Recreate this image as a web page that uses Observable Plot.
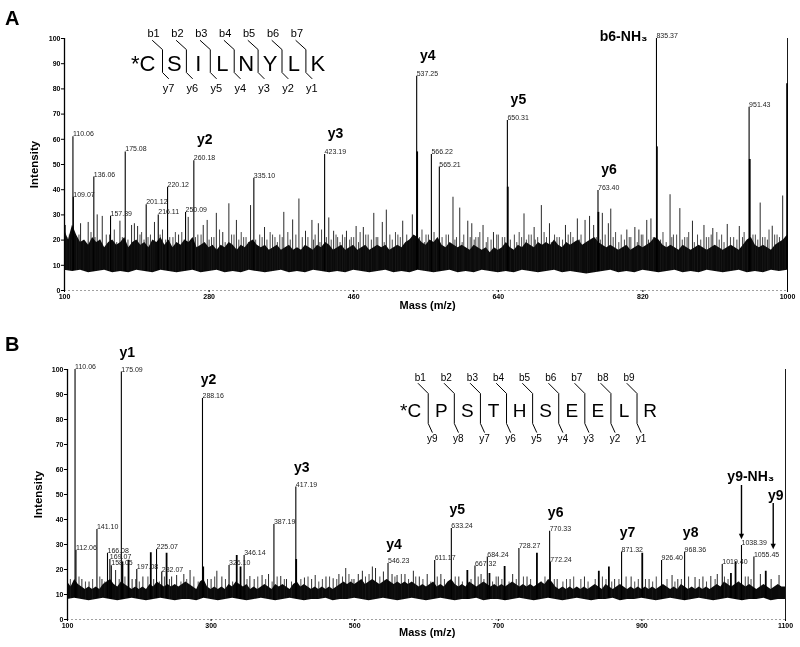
<!DOCTYPE html>
<html><head><meta charset="utf-8">
<script src="https://cdn.jsdelivr.net/npm/d3@7"></script>
<script src="https://cdn.jsdelivr.net/npm/@observablehq/plot@0.6"></script>
<style>
html,body{margin:0;padding:0;background:#fff;}
#wrap{position:relative;width:800px;height:647px;overflow:hidden;background:#fff;font-family:'Liberation Sans',Arial,sans-serif;filter:grayscale(100%);}
.pl{position:absolute;left:0;}
.tag{position:absolute;left:5px;font-weight:bold;font-size:20px;line-height:20px;color:#000;}
</style></head>
<body><div id="wrap"></div>
<script>
// ---------------- Panel A data ----------------
const xTicksA = [100, 280, 460, 640, 820, 1000];
const yTicks = [0, 10, 20, 30, 40, 50, 60, 70, 80, 90, 100];
// upper edge of the dense noise band, every 5 m/z from 100
const bandHiA = [
  24,20,26,22,19,20,18,21,19,20,17,19,20,18,19,21,17,19,20,18,
  19,17,20,19,21,18,20,17,19,18,20,19,21,17,18,19,17,18,16,18,
  17,19,18,16,18,17,19,20,18,17,18,16,17,18,16,17,18,16,17,16,
  18,17,16,18,17,19,18,16,17,18,16,17,18,16,17,18,16,17,18,17,
  18,16,17,18,17,19,20,22,21,19,18,20,19,21,18,17,19,18,17,18,
  17,16,18,17,16,17,15,17,16,17,19,17,16,18,17,19,18,17,19,18,
  19,18,20,18,17,19,18,19,20,18,19,20,21,19,18,17,18,17,16,17,
  18,16,17,18,17,18,19,21,20,18,17,18,17,16,18,17,16,17,18,17,
  16,17,18,17,16,17,18,17,16,18,20,21,18,17,18,17,16,18,19,20,
  22];
// lower edge of the noise band, every 10 m/z from 100
const bandLoA = [
  8,7.5,8,7,7.5,8,7,7.5,7,8,
  7.5,7,8,7.5,7,7.5,8,7,7.5,8,
  7,7.5,7,8,7.5,7,7.5,8,7,7.5,
  7,8,7.5,7,7.5,7,8,7.5,7,7.5,
  8,7,7.5,7,8,7.5,7,7.5,8,7,
  7.5,7,8,7.5,7,7.5,7,8,7.5,7,
  7.5,8,7,7.5,7,6.5,7,7.5,8,7,
  7.5,7,8,7.5,7,7.5,8,7,7.5,7,
  8,7.5,7,7.5,8,7,7.5,7,8,7.5,
  8];
const peakMzA = [110.5,111,136.5,157.3,175.6,201.7,216.7,228.3,250.7,261,335.7,423.8,538.4,556.7,566.6,651.3,764.1,836.9,952.2];
const peakIntA = [61,37,45,29.5,55,34,30,41,31,51.5,44.5,54,85,54,49,67.5,39.7,100,72.7];
const peakLabelA = ["110.06","109.07","136.06","157.39","175.08","201.12","216.11","220.12","250.09","260.18","335.10","423.19","537.25","566.22","565.21","650.31","763.40","835.37","951.43"];
const extraMzA = [539, 651.8, 764.6, 837.4, 953, 999.5];
const extraIntA = [55, 41, 31, 57, 52, 82];
const spikeMzA = [101,120,129.5,140.7,147,169,183.5,187,191,212,242,254,272.7,277.6,289,297,304.6,314,331.6,349,373,384,391.8,400,408,416,429,435,451,463,472,485,495.6,500.6,521,533,583.6,592,602,607,621,634,672,684.6,693.6,703.7,723.6,738.4,748,753.6,758.7,769.5,777,780,800,810,815,824.8,830,853.8,866,881.7,896,907,925,940,966,981,994];
const spikeIntA = [25.8,26.5,27,30,29.4,27.5,25.8,26.5,25.4,27,22,29,25.8,27.8,30.6,23,34.4,27.8,33.7,25,31,28,36.3,23.5,27.8,26.5,28.8,23.5,23.5,25.4,25,30.6,27,31.9,27.5,30,37,32.7,27.5,26.5,25.8,23,30.4,25,33.7,26.5,25.8,28.4,27.8,29.4,25.8,30.6,26.5,32.3,24,25,24,27.8,28.4,38,32.5,27.5,25.8,24.6,26.2,25.4,34.7,25.5,37.5];
const fuzzMzA = [106,115,133,152,162,196,207,222,235,246,266,283,293,308,320,326,343,356,362,368,378,396,412,420,440,446,457,468,478,490,505,512,526,545,550,560,575,588,597,612,617,627,640,645,660,666,678,689,697,710,716,730,743,786,793,805,820,845,858,872,877,888,902,912,918,933,946,960,972,977,987];
const fuzzIntA = [22,21,23,22,24,23,22,24,21,23,22,21,24,22,23,21,22,23,21,22,23,21,22,24,21,22,21,23,22,21,22,23,22,24,22,23,22,21,22,21,23,21,22,21,22,23,22,21,23,22,21,23,22,23,22,21,22,23,22,21,23,22,21,23,22,21,23,22,21,24,22];
const fuzz2MzA = [103,109,118,124,138,144,156,165,172,179,194,199,204,210,219,226,231,238,249,258,263,270,280,286,300,311,317,323,329,338,346,352,359,365,371,381,388,403,410,418,426,432,438,443,449,455,460,466,475,482,488,498,508,515,518,530,542,548,553,563,570,578,586,595,605,610,615,625,631,638,648,655,663,669,675,681,686,700,706,713,720,727,733,741,751,762,767,773,783,790,797,803,813,818,827,833,842,849,856,862,869,875,884,892,899,905,915,921,929,937,944,950,957,963,969,975,984,990,997];
const fuzz2IntA = [21,20,22,19,21,20,22,19,21,20,22,20,21,19,22,20,21,23,20,19,21,22,20,21,19,22,20,21,19,20,21,20,22,19,21,20,22,21,20,19,21,20,22,19,21,20,21,19,22,20,21,19,20,22,21,20,21,19,22,20,21,22,20,19,21,20,21,19,20,22,21,20,19,21,20,22,20,21,19,21,20,22,21,20,19,21,20,22,21,19,20,21,19,22,20,21,20,19,21,22,20,21,19,20,21,22,20,19,21,20,21,19,22,20,21,20,22,21,20];
const ionNameA = ["y2","y3","y4","y5","y6"];
const ionPeakA = ["260.18","423.19","537.25","650.31","763.40"];
const sideIonNameA = ["b6-NH\u2083"];
const sideIonPeakA = ["835.37"];
const seqA = ["*C","S","I","L","N","Y","L","K"];
const bIonsA = ["b1","b2","b3","b4","b5","b6","b7"];
const yIonsA = ["y7","y6","y5","y4","y3","y2","y1"];

// ---------------- Panel B data ----------------
const xTicksB = [100, 300, 500, 700, 900, 1100];
const bandHiB = [
  15,13,16,14,13,12,13,12,13,12,14,15,16,14,13,15,14,13,12,13,
  12,13,12,14,13,15,14,13,14,13,14,13,14,15,14,13,12,15,16,13,
  12,13,12,13,12,14,13,15,14,13,14,12,13,12,13,14,13,12,14,13,
  14,13,12,14,15,13,14,13,12,13,12,13,12,13,12,13,14,15,14,15,
  14,15,16,14,15,16,15,14,15,16,15,14,15,14,15,14,15,14,13,14,
  13,14,15,13,14,13,15,16,14,13,14,13,15,14,13,14,15,14,13,14,
  13,14,13,14,15,14,13,14,13,14,13,14,15,14,16,15,13,12,13,12,
  13,12,13,12,13,12,13,14,13,12,14,13,12,13,14,13,12,13,12,13,
  12,13,12,13,12,13,14,13,12,13,12,14,13,12,13,12,13,12,13,12,
  13,14,13,15,14,13,14,15,14,13,14,13,12,13,14,13,12,13,14,13,
  13];
const bandLoB = [
  8,8.5,8,7.5,8,8.5,8,7.5,8,8.5,
  8,7.5,8,8.5,8,7.5,8,8,7.5,8.5,
  8,7.5,8,8.5,8,7.5,8,8.5,8,7.5,
  8,8.5,8,7.5,8,8,8.5,7.5,8,8,
  8.5,8,7.5,8,8.5,8,7.5,8,8.5,8,
  7.5,8,8.5,8,7.5,8,8,8.5,7.5,8,
  8,7.5,8,8.5,8,7.5,8,8.5,8,7.5,
  8,8.5,8,7.5,8,8,8.5,7.5,8,8,
  8.5,8,7.5,8,8.5,8,7.5,8,8.5,8,
  7.5,8,8.5,8,7.5,8,8,8.5,7.5,8,
  8];
const peakMzB = [110.5,111.8,141,155.7,159,161,175,196.5,224,231.3,288,325,346,387.5,418,546.4,611.4,634.6,667.5,684.7,728.7,771.5,772.5,871.7,927.4,959.5,1011.9,1038.7,1056];
const peakIntB = [100,27.6,36,26.5,24,21.5,99,20,28,19,88.4,21.6,25.6,38,53,22.4,23.6,36.4,21.4,25,28.4,35.3,23,27,23.6,27,22,29.6,25];
const peakLabelB = ["110.06","112.06","141.10","166.08","169.07","158.05","175.09","197.08","225.07","232.07","288.16","326.10","346.14","387.19","417.19","546.23","611.17","633.24","667.32","684.24","728.27","770.33","772.24","871.32","926.40","968.36","1019.40","1038.39","1055.45"];
const extraMzB = [176.5,185,216,238,289,335.7,341,418.5,656.9,687.7,708.8,753.8,840,854,900.5,1024,1030.4,1072.5];
const extraIntB = [23,23.7,26.7,26.5,21,25.6,21,24,19.6,18.4,21.2,26.5,19.3,21,26.5,18.4,23,19.3];
const spikeMzB = [120,130,148,167,190,205,245,252,262,270.7,300,308,315,354,360,371,380,397,405,430,440,445,460,470,478,487.5,499,505,510.7,524.6,529,540,552,559,570,581.7,590,601,620,645,676,700,720,740,782,800,820,862,885,910,942,950,974,985,996,1005,1048,1065,1080,1091];
const spikeIntB = [16,15,16,19.6,16,17,17,17.6,18,19.6,16,19.3,17,17.2,16,17.6,18,17.2,16,16.6,16,17.6,17,16.3,18,20.4,16,18,19.3,21,20.4,19,18,17.6,18,19.3,17,18,18,17,18,17,18,17,16,16,17,16,17,16,17.6,16,16.8,17,17.2,18,17,18,16,17.6];
const fuzzMzB = [104,116,125,135,145,152,172,180,195,200,212,220,228,235,242,258,266,276,282,295,305,320,330,350,365,376,385,392,402,412,425,435,450,455,465,475,483,492,496,515,520,535,545,556,565,575,585,595,606,615,625,640,650,662,672,680,692,697,705,715,725,735,745,760,765,778,790,795,805,815,825,835,845,850,858,868,878,890,895,905,915,920,935,946,955,965,980,990,1002,1015,1020,1035,1044,1052,1060,1068,1077,1085,1095];
const fuzzIntB = [16,17,15,16,17,15,16,17,16,15,17,16,15,17,16,15,16,17,15,16,17,16,15,16,17,16,15,17,16,15,16,17,15,16,17,16,17,18,16,17,18,17,16,17,18,16,17,16,15,17,16,17,15,16,17,16,15,17,16,15,16,17,16,15,17,16,15,16,17,16,15,16,17,16,15,16,17,15,16,16,15,17,16,15,16,17,16,15,16,17,16,15,17,16];
const ionNameB = ["y1","y2","y3","y4","y5","y6","y7","y8"];
const ionPeakB = ["175.09","288.16","417.19","546.23","633.24","770.33","871.32","968.36"];
const arrowNameB = ["y9-NH\u2083","y9"];
const arrowMzB = [1038.7, 1082.9];
const arrowTopB = [53.6, 46.4];
const arrowEndB = [33.6, 29.6];
const arrowLabelMzB = [1051.7, 1086.5];
const arrowLabelIntB = [57.2, 49.6];
const seqB = ["*C","P","S","T","H","S","E","E","L","R"];
const bIonsB = ["b1","b2","b3","b4","b5","b6","b7","b8","b9"];
const yIonsB = ["y9","y8","y7","y6","y5","y4","y3","y2","y1"];

const FONT = "'Liberation Sans', Arial, sans-serif";

function spectrum(c) {
  const [m0, m1] = c.domain;
  const kx = (800 - c.ml - c.mr) / (m1 - m0);
  const hi = c.bandHi.map((v, i) => ({mz: m0 + i * 5, v}));
  const lo = c.bandLo.map((v, i) => ({mz: m0 + i * 10, v}));
  const peaks = c.peakMz.map((mz, i) => ({mz, v: c.peakInt[i], label: c.peakLabel[i]}));
  const extras = c.extraMz.map((mz, i) => ({mz, v: c.extraInt[i]}));
  const spikes = c.spikeMz.map((mz, i) => ({mz, v: c.spikeInt[i]}));
  const fuzz = c.fuzzMz.map((mz, i) => ({mz, v: c.fuzzInt[i]}));
  const find = lab => peaks.find(p => p.label === lab);
  const ions = c.ionName.map((n, k) => ({n, ...find(c.ionPeak[k])}));
  const sideIons = (c.sideName || []).map((n, k) => ({n, ...find(c.sidePeak[k])}));
  // sequence diagram
  const s = c.seqLayout;
  const bxs = c.bIons.map((_, k) => s.start + k * s.step);
  const br = [];
  bxs.forEach((bx, k) => s.shape.forEach(([dpx, v]) => br.push({k, mz: bx + dpx / kx, v})));
  const bLab = c.bIons.map((t, k) => ({t, mz: bxs[k] + s.bDx / kx, v: s.bY}));
  const yLab = c.yIons.map((t, k) => ({t, mz: bxs[k] + s.yDx / kx, v: s.yY}));
  const letters = c.seq.slice(1).map((t, k) => ({t, mz: bxs[k] + s.step / 2, v: s.letterY}));
  const first = [{t: c.seq[0], mz: bxs[0] - 7 / kx, v: s.letterY}];
  const arrows = (c.arrowName || []).map((n, k) => ({n, mz: c.arrowMz[k], top: c.arrowTop[k], end: c.arrowEnd[k], lmz: c.arrowLabelMz[k], lv: c.arrowLabelInt[k]}));

  return Plot.plot({
    width: 800, height: c.height,
    marginTop: c.mt, marginBottom: c.mb, marginLeft: c.ml, marginRight: c.mr,
    x: {domain: c.domain},
    y: {domain: [0, 100]},
    style: {fontFamily: FONT, background: "transparent", color: "#000"},
    marks: [
      Plot.areaY(hi, {x: "mz", y: "v", fill: "#0a0a0a"}),
      Plot.ruleX(fuzz, {x: "mz", y1: 0, y2: "v", stroke: "#1a1a1a", strokeWidth: 0.8}),
      Plot.ruleX(spikes, {x: "mz", y1: 0, y2: "v", stroke: "#111", strokeWidth: 0.9}),
      Plot.ruleX(peaks, {x: "mz", y1: 0, y2: "v", stroke: "#000", strokeWidth: 1.1}),
      Plot.ruleX(extras, {x: "mz", y1: 0, y2: "v", stroke: "#000", strokeWidth: 1.8}),
      Plot.areaY(lo, {x: "mz", y: "v", fill: "#fff"}),
      Plot.ruleY([0], {stroke: "#888", strokeWidth: 0.8, strokeDasharray: "2,2"}),
      Plot.ruleX([m0], {y1: 0, y2: 100, stroke: "#000", strokeWidth: 1.3}),
      Plot.ruleX([m1], {y1: 0, y2: 100, stroke: "#000", strokeWidth: 0.9}),
      Plot.axisY({ticks: yTicks, tickSize: 3, tickPadding: 1, fontSize: 7, fontWeight: "bold", label: null, tickFormat: d => String(d)}),
      Plot.axisX({ticks: c.xTicks, tickSize: 2, tickPadding: 2, fontSize: 7, fontWeight: "bold", label: null, tickFormat: d => String(d)}),
      Plot.text(["Intensity"], {x: c.yLabel[0], y: c.yLabel[1], text: d => d, rotate: -90, fontSize: 11.5, fontWeight: "bold"}),
      Plot.text(["Mass (m/z)"], {x: c.xLabel[0], y: c.xLabel[1], text: d => d, fontSize: 11, fontWeight: "bold"}),
      Plot.text(peaks, {x: "mz", y: "v", text: "label", textAnchor: "start", lineAnchor: "bottom", dx: 0, dy: -0.5, fontSize: 7, fill: "#222"}),
      Plot.text(ions, {x: "mz", y: "v", text: "n", dx: c.ionDx, dy: c.ionDy, fontSize: 14, fontWeight: "bold"}),
      Plot.text(sideIons, {x: "mz", y: "v", text: "n", textAnchor: "end", dx: -9, dy: -2, fontSize: 14, fontWeight: "bold"}),
      Plot.line(br, {x: "mz", y: "v", z: "k", stroke: "#000", strokeWidth: 1, curve: "linear"}),
      Plot.text(bLab, {x: "mz", y: "v", text: "t", fontSize: s.small}),
      Plot.text(yLab, {x: "mz", y: "v", text: "t", fontSize: s.small}),
      Plot.text(letters, {x: "mz", y: "v", text: "t", fontSize: s.big}),
      Plot.text(first, {x: "mz", y: "v", text: "t", textAnchor: "end", fontSize: s.big}),
      Plot.ruleX(arrows, {x: "mz", y1: "top", y2: "end", stroke: "#000", strokeWidth: 1.4}),
      Plot.text(arrows, {x: "mz", y: "end", text: () => "\u25BC", fontSize: 9, lineAnchor: "bottom", dy: 3}),
      Plot.text(arrows, {x: "lmz", y: "lv", text: "n", fontSize: 14, fontWeight: "bold"})
    ]
  });
}

const cfgA = {
  height: 320, mt: 38, mb: 30, ml: 64, mr: 13, domain: [100, 1000], xTicks: xTicksA,
  bandHi: bandHiA, bandLo: bandLoA, peakMz: peakMzA, peakInt: peakIntA, peakLabel: peakLabelA,
  extraMz: extraMzA, extraInt: extraIntA,
  spikeMz: spikeMzA, spikeInt: spikeIntA,
  fuzzMz: fuzzMzA.concat(fuzz2MzA), fuzzInt: fuzzIntA.concat(fuzz2IntA),
  ionName: ionNameA, ionPeak: ionPeakA, sideName: sideIonNameA, sidePeak: sideIonPeakA,
  ionDx: 11, ionDy: -21,
  seq: seqA, bIons: bIonsA, yIons: yIonsA,
  seqLayout: {start: 222.0, step: 29.75, shape: [[-10, 99.2], [0, 95.6], [0, 86.5], [6, 84.1]], bDx: -9, bY: 102, yDx: 6, yY: 80.2, letterY: 90, big: 22, small: 11},
  yLabel: [62.7, 50], xLabel: [552, -6]
};
const cfgB = {
  height: 324, mt: 46, mb: 28, ml: 67, mr: 15, domain: [100, 1100], xTicks: xTicksB,
  bandHi: bandHiB, bandLo: bandLoB, peakMz: peakMzB, peakInt: peakIntB, peakLabel: peakLabelB,
  extraMz: extraMzB, extraInt: extraIntB, spikeMz: spikeMzB, spikeInt: spikeIntB,
  fuzzMz: fuzzMzB, fuzzInt: fuzzIntB,
  ionName: ionNameB, ionPeak: ionPeakB, ionDx: 6, ionDy: -19,
  arrowName: arrowNameB, arrowMz: arrowMzB, arrowTop: arrowTopB, arrowEnd: arrowEndB,
  arrowLabelMz: arrowLabelMzB, arrowLabelInt: arrowLabelIntB,
  seq: seqB, bIons: bIonsB, yIons: yIonsB,
  seqLayout: {start: 602.4, step: 36.35, shape: [[-10, 94.4], [0, 90.4], [0, 78.4], [4, 74.9]], bDx: -8, bY: 96.8, yDx: 4, yY: 72.4, letterY: 83.6, big: 19, small: 10},
  yLabel: [58.9, 50], xLabel: [601, -5.2]
};

const wrap = document.getElementById("wrap");
function place(svg, top) {
  const d = document.createElement("div");
  d.className = "pl"; d.style.top = top + "px";
  d.appendChild(svg); wrap.appendChild(d);
}
place(spectrum(cfgA), 0);
place(spectrum(cfgB), 323);
for (const [t, top] of [["A", 8], ["B", 334]]) {
  const d = document.createElement("div");
  d.className = "tag"; d.style.top = top + "px"; d.textContent = t;
  wrap.appendChild(d);
}
</script></body></html>
